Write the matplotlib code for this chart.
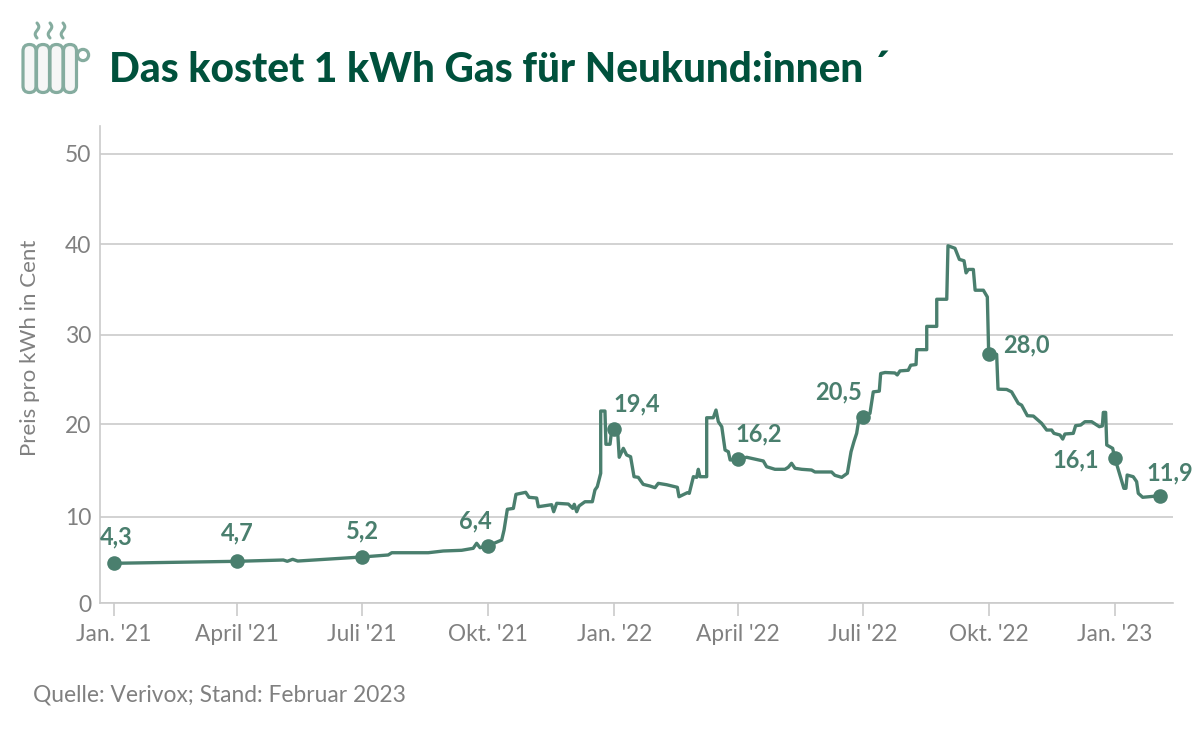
import numpy as np
import matplotlib
matplotlib.use("Agg")
import matplotlib.pyplot as plt
from matplotlib.patches import FancyBboxPatch, Circle

# ---- data ----
days = [0,90,123.5,126.4,130.3,134,181,200,202.6,229.2,240.2,253.6,262,264.5,267,273,
        282.8,284.5,286.9,291.3,293.2,300.3,302.7,308.3,309.5,319.2,320.7,322.9,331.4,334.6,335.7,337.5,339.2,343.5,348.9,350.8,352.5,355,355,
        358.1,358.8,361.8,363,365,367.3,368.5,371.5,373.9,376.8,379.3,382.4,386,390.9,394.6,397,403.1,410.9,412.1,418.2,419.6,422.6,425,426.2,427.4,432.3,432.3,
        437.1,439.1,440.8,443.3,445.7,448.1,449.4,455,461.5,473.6,476,482.1,489.4,491.8,494.2,496.7,501.6,508.8,511.3,523.4,525.8,530.8,534.9,537.6,
        539.7,541.7,543.4,546,551.4,553.8,558.2,559.2,562.4,569.6,571.3,573.3,579.3,581.1,585,585.5,592.8,592.8,600.1,600.1,607.4,608.3,613.4,616.6,620,621.5,623.2,626.8,628.1,634.1,637,638,
        643.8,644.8,651.1,654.7,659.6,662,666.2,670.6,676.6,680.3,683.9,685.6,690,692,693.6,699.7,701.4,705.1,708.2,713.1,718.7,720.9,721.6,723.3,724.1,728.4,730,
        736.6,738.1,739,743.4,745.9,747.1,750.3,763]
price = [4.62,4.85,5.0,4.85,5.08,4.88,5.35,5.58,5.84,5.84,6.04,6.12,6.35,6.93,6.42,6.65,
         7.31,8.46,10.8,10.9,12.42,12.64,12.1,12.02,11.08,11.3,10.54,11.45,11.37,10.9,11.34,10.54,11.16,11.62,11.62,12.89,13.25,14.7,21.48,
         21.48,17.84,17.84,19.38,19.45,19.38,16.43,17.4,16.68,16.49,14.33,14.26,13.5,13.32,13.14,13.61,13.46,13.18,12.16,12.6,12.53,14.33,14.26,15.13,14.33,14.33,20.73,
         20.73,21.59,20.29,19.74,17.22,17.03,16.14,16.21,16.43,16.03,15.41,15.13,15.13,15.35,15.78,15.24,15.13,15.05,14.84,14.84,14.48,14.26,14.7,17.03,
         18.12,19.03,20.67,20.78,21.22,23.62,23.7,25.67,25.78,25.73,25.51,25.96,26.03,26.59,26.67,28.33,28.33,30.92,30.92,33.92,33.92,39.84,39.56,38.33,38.18,36.84,37.22,37.22,34.92,34.92,34.18,27.85,
         27.81,23.92,23.89,23.62,22.33,22.14,20.96,20.92,20.11,19.38,19.38,19.02,18.84,18.4,18.95,19.02,19.85,19.92,20.29,20.29,19.74,19.82,21.33,21.33,17.76,17.4,16.35,
         13.07,13.07,14.51,14.33,13.79,12.53,12.1,12.27]

mark_days   = [0,90,181,273,365,455,546,638,730,763]
mark_price  = [4.62,4.85,5.35,6.65,19.45,16.21,20.78,27.85,16.35,12.27]
mark_labels = ["4,3","4,7","5,2","6,4","19,4","16,2","20,5","28,0","16,1","11,9"]

tick_days   = [0,90,181,273,365,455,546,638,730]
tick_labels = ["Jan. '21","April '21","Juli '21","Okt. '21","Jan. '22","April '22","Juli '22","Okt. '22","Jan. '23"]
y_ticks     = [0,10,20,30,40,50]

# label offsets from the markers (pixels)
label_off = [(2,26),(0,28),(0,26),(-13,25),(22,25),(21,25),(-24,25),(38,9),(-39,-2),(10,23)]

GREEN = "#4a7f6e"
DARK = "#00513c"
GREY = "#808080"
GRID = "#cbcbcb"
ICON = "#85ac9f"
FONT = "Lato"
plt.rcParams["font.family"] = FONT

W, H = 1200, 737
fig = plt.figure(figsize=(W/100, H/100), dpi=100)
L, R, T, B = 99.5, 1173, 126, 603.3
ax = fig.add_axes([L/W, 1-B/H, (R-L)/W, (B-T)/H])

# the source's y axis has slightly uneven grid spacing
_v = [0,10,20,30,40,50,53.05]
_p = [0,86.6,179,268.6,359,449.8,477.3]
ax.set_yscale("function", functions=(lambda a: np.interp(a,_v,_p),
                                     lambda a: np.interp(a,_p,_v)))
ax.set_ylim(0,53.05)
ax.set_xlim((L-114)/1.371,(R-114)/1.371)

ax.set_yticks(y_ticks)
ax.set_yticklabels([str(t) for t in y_ticks])
ax.set_xticks(tick_days)
ax.set_xticklabels(tick_labels)
ax.minorticks_off()
ax.yaxis.grid(True,color=GRID,lw=1.2)
ax.set_axisbelow(True)
for s in ("top","right"):
    ax.spines[s].set_visible(False)
for s in ("left","bottom"):
    ax.spines[s].set_color(GRID)
    ax.spines[s].set_linewidth(1.2)
ax.tick_params(axis="y",length=0,pad=6,labelsize=16.5,labelcolor=GREY)
ax.tick_params(axis="x",length=9,width=1.2,color=GRID,pad=6,labelsize=16.3,labelcolor=GREY)

ax.plot(days,price,color=GREEN,lw=2.4,solid_joinstyle="round",zorder=3)
ax.plot(mark_days,mark_price,ls="none",marker="o",ms=10.5,mfc=GREEN,mec=GREEN,mew=0,zorder=4)
for d,p,t,o in zip(mark_days,mark_price,mark_labels,label_off):
    ax.annotate(t,(d,p),xytext=o,textcoords="offset pixels",ha="center",va="center",
                color=GREEN,fontsize=17,fontweight="bold",zorder=5,annotation_clip=False)

fig.text(30/W,1-348/H,"Preis pro kWh in Cent",rotation=90,ha="center",va="center",color=GREY,fontsize=16)
fig.text(33/W,1-695/H,"Quelle: Verivox; Stand: Februar 2023",ha="left",va="center",color=GREY,fontsize=16.4)
fig.text(109/W,1-82/H,"Das kostet 1 kWh Gas für Neukund:innen ´",ha="left",va="baseline",
         color=DARK,fontsize=29.2,fontweight="black")

# heater icon
ic = fig.add_axes([0,0,1,1],zorder=-1)
ic.set_xlim(0,W); ic.set_ylim(H,0); ic.axis("off")
for x0 in (23,36.5,50,63.5):
    ic.add_patch(FancyBboxPatch((x0,44.5),13,48,boxstyle="round,pad=0,rounding_size=6.5",
                                fc="#f6f6f6",ec=ICON,lw=2.3))
ic.add_patch(Circle((83,55),5.6,fc="white",ec=ICON,lw=2.3))
yy = np.linspace(23,38,30)
for x0 in (37,50,63):
    ic.plot(x0+1.8*np.sin((yy-23)/15*2*np.pi),yy,color=ICON,lw=2.2,solid_capstyle="round")

fig.savefig("out.png",dpi=100,facecolor="white")
